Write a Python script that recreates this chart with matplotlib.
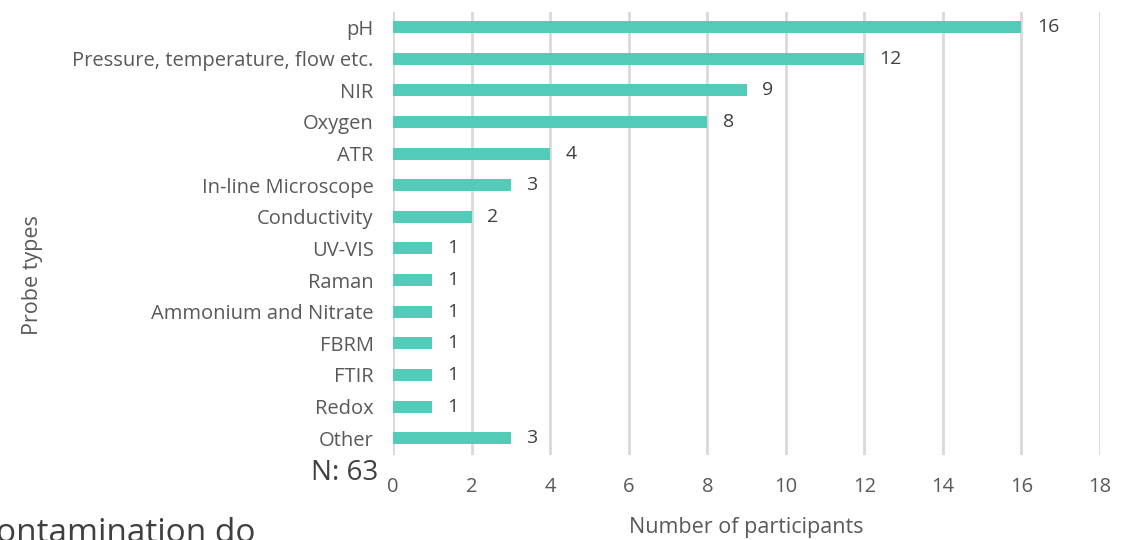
import matplotlib
matplotlib.use('Agg')
from matplotlib import pyplot as plt

# Survey data: probe types and number of participants
probe_types = ['pH', 'Pressure, temperature, flow etc.', 'NIR', 'Oxygen', 'ATR',
               'In-line Microscope', 'Conductivity', 'UV-VIS', 'Raman',
               'Ammonium and Nitrate', 'FBRM', 'FTIR', 'Redox', 'Other']
participants = [16, 12, 9, 8, 4, 3, 2, 1, 1, 1, 1, 1, 1, 3]
x_ticks = [0, 2, 4, 6, 8, 10, 12, 14, 16, 18]

plt.rcParams['font.family'] = ['Open Sans', 'DejaVu Sans']
text_color = '#595959'

fig = plt.figure(figsize=(11.3, 5.4), dpi=100)
ax = fig.add_axes([0.3478, 0.157, 0.6257, 0.821])

pos = list(range(len(probe_types)))
ax.barh(pos, participants, height=0.38, color='#52CCB8', zorder=3)

for y, v in zip(pos, participants):
    ax.annotate(str(v), (v, y), xytext=(11, 0), textcoords='offset points',
                va='center', ha='left', fontsize=14, color='#404040')

ax.set_xlim(0, 18)
ax.set_ylim(13.54, -0.48)
ax.set_xticks(x_ticks)
ax.set_yticks(pos)
ax.set_yticklabels(probe_types, fontsize=15)
ax.tick_params(axis='both', length=0, labelsize=14.5, colors=text_color)
ax.tick_params(axis='x', pad=16)
ax.tick_params(axis='y', pad=14)
ax.grid(axis='x', color='#D9D9D9', linewidth=2, zorder=0)
for s in ax.spines.values():
    s.set_visible(False)

ax.set_xlabel('Number of participants', fontsize=15.5, color=text_color, labelpad=14)
fig.text(0.029, 0.49, 'Probe types', rotation=90, fontsize=15.5, color=text_color,
         ha='center', va='center')

fig.text(0.335, 0.125, 'N: 63', fontsize=20, color='#404040', ha='right', va='center')
fig.text(-0.022, -0.004, 'Contamination do', fontsize=24, color='#404040',
         ha='left', va='baseline')

fig.savefig('out.png', dpi=100)
